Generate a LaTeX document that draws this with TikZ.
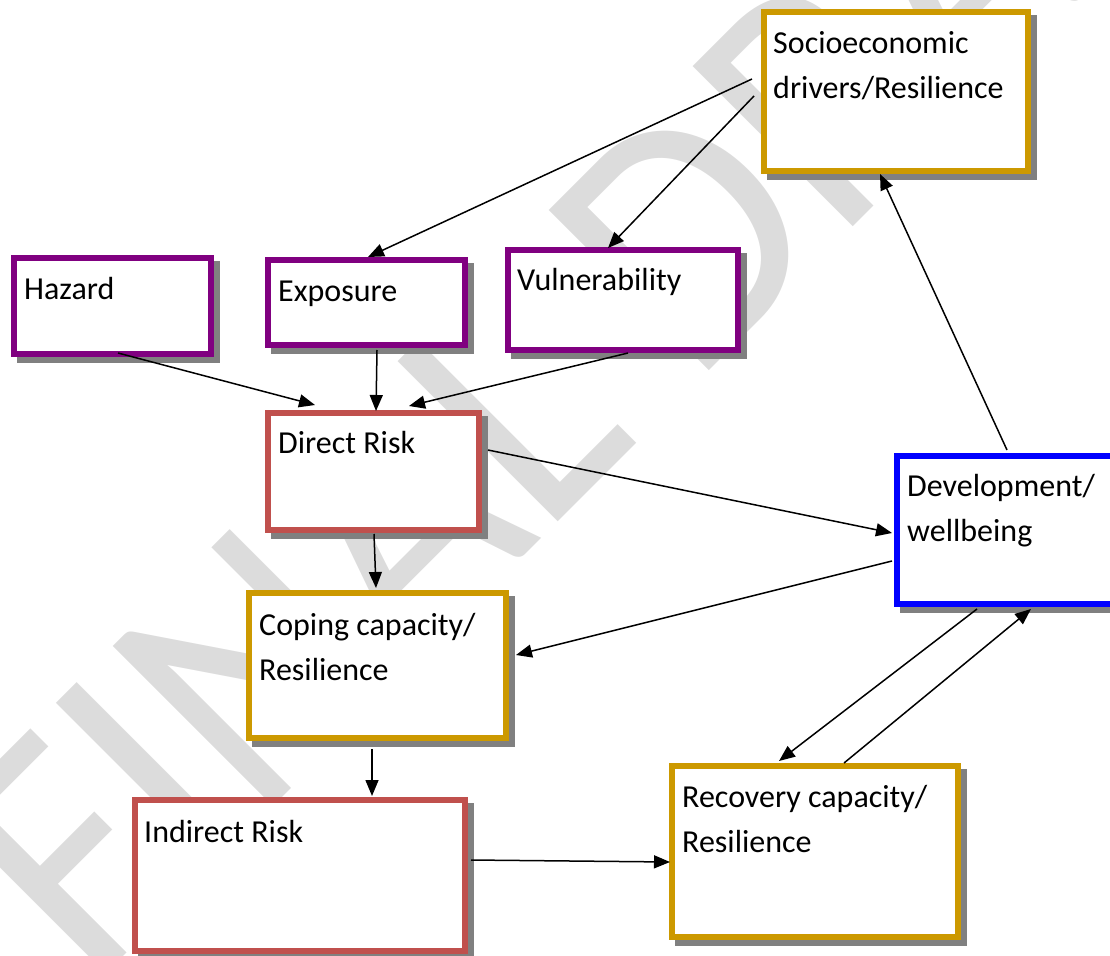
\documentclass[tikz,border=0pt]{standalone}
\usepackage{fontspec}
\setmainfont{Carlito}
\usetikzlibrary{arrows.meta,backgrounds}
\definecolor{purp}{HTML}{800080}
\definecolor{rred}{HTML}{C0504D}
\definecolor{gold}{HTML}{CC9900}
\definecolor{bblue}{HTML}{0000FF}
\definecolor{shdw}{HTML}{808080}
\definecolor{wmark}{HTML}{DCDCDC}
\begin{document}
\begin{tikzpicture}[x=1pt,y=-1pt,
  box/.style={draw, line width=6pt, fill=white, rectangle, inner sep=0pt, outer sep=3pt, anchor=north west},
  txt/.style={anchor=north west, inner sep=0pt, align=left, font=\fontsize{32}{45.5}\selectfont},
  conn/.style={line width=1.5pt, -{Triangle[length=16pt,width=13pt]}},
  wm/.style={anchor=base west, rotate=45, yscale=1.07, inner sep=0pt, text=wmark, font=\fontsize{330}{330}\selectfont}
]
\useasboundingbox (0,0) rectangle (1110,955);
\clip (0,0) rectangle (1110,955);

% boxes
\node[box, draw=purp, minimum width=197pt, minimum height=96pt]  (hazard)   at (11,255) {};
\node[box, draw=purp, minimum width=197pt, minimum height=85pt]  (exposure) at (265,257) {};
\node[box, draw=purp, minimum width=230pt, minimum height=100pt] (vuln)     at (505,247) {};
\node[box, draw=gold, minimum width=264pt, minimum height=159pt] (socio)    at (761,9) {};
\node[box, draw=rred, minimum width=211pt, minimum height=117pt] (direct)   at (265,410) {};
\node[box, draw=bblue, minimum width=225pt, minimum height=148pt] (dev)     at (894,453) {};
\node[box, draw=gold, minimum width=257pt, minimum height=145pt] (coping)   at (246,590) {};
\node[box, draw=gold, minimum width=286pt, minimum height=171pt] (recovery) at (669,763) {};
\node[box, draw=rred, minimum width=330pt, minimum height=151pt] (indirect) at (132,797) {};

% texts
\node[txt] (hazardT)   at ([shift={(13,12.5)}]hazard.north west)   {\strut Hazard};
\node[txt] (exposureT) at ([shift={(13,12)}]exposure.north west)   {\strut Exposure};
\node[txt] (vulnT)     at ([shift={(12,11)}]vuln.north west)       {\strut Vulnerability};
\node[txt] (socioT)    at ([shift={(12,12)}]socio.north west)      {\strut Socioeconomic\\drivers/Resilience};
\node[txt] (directT)   at ([shift={(13,11)}]direct.north west)     {\strut Direct Risk};
\node[txt] (devT)      at ([shift={(13,11)}]dev.north west)        {\strut Development/\\wellbeing};
\node[txt] (copingT)   at ([shift={(13,13)}]coping.north west)     {\strut Coping capacity/\\Resilience};
\node[txt] (recoveryT) at ([shift={(13,12)}]recovery.north west)   {\strut Recovery capacity/\\Resilience};
\node[txt] (indirectT) at ([shift={(12,13)}]indirect.north west)   {\strut Indirect Risk};

% watermark and shadows behind
\begin{pgfonlayer}{background}
\node[wm] (wmk) at (90.5,989.5) {FINAL DRAFT};
\foreach \n in {hazard,exposure,vuln,socio,direct,dev,coping,recovery,indirect}
  \fill[shdw] ([shift={(6,6)}]\n.north west) rectangle ([shift={(6,6)}]\n.south east);
\end{pgfonlayer}

% connectors
\draw[conn] ([shift={(-9,70)}]socio.north west) -- ([shift={(103,0)}]exposure.north west);
\draw[conn] ([shift={(-7,87)}]socio.north west) -- ([shift={(103,1)}]vuln.north west);
\draw[conn] ([shift={(107,98)}]hazard.north west) -- ([shift={(50,-5)}]direct.north west);
\draw[conn] ([shift={(112,93)}]exposure.north west) -- ([shift={(111,1)}]direct.north west);
\draw[conn] ([shift={(123,106)}]vuln.north west) -- ([shift={(144,-4)}]direct.north west);
\draw[conn] ([shift={(223,40)}]direct.north west) -- ([shift={(-2,80)}]dev.north west);
\draw[conn] ([shift={(-2,108)}]dev.north west) -- ([shift={(270,65)}]coping.north west);
\draw[conn] ([shift={(109,124)}]direct.north west) -- ([shift={(130,-2)}]coping.north west);
\draw[conn] ([shift={(126,159)}]coping.north west) -- ([shift={(240,-1)}]indirect.north west);
\draw[conn] ([shift={(339,63)}]indirect.north west) -- ([shift={(1,99)}]recovery.north west);
\draw[conn] ([shift={(83,156)}]dev.north west) -- ([shift={(110,-2)}]recovery.north west);
\draw[conn] ([shift={(175,0)}]recovery.north west) -- ([shift={(137,156)}]dev.north west);
\draw[conn] ([shift={(113,-3)}]dev.north west) -- ([shift={(119,165)}]socio.north west);
\end{tikzpicture}
\end{document}
